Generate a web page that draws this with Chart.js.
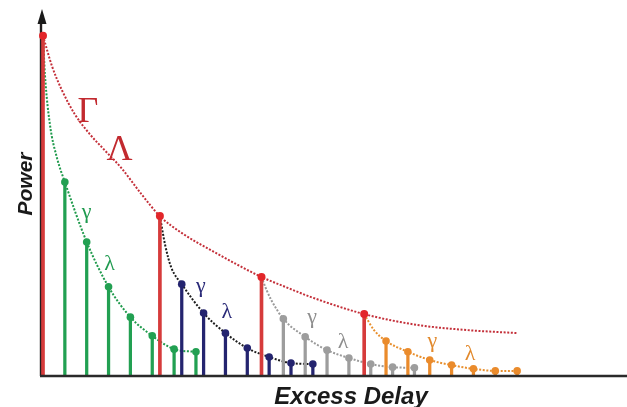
<!DOCTYPE html>
<html><head><meta charset="utf-8">
<script src="https://cdn.jsdelivr.net/npm/chart.js@4"></script>
<style>html,body{margin:0;padding:0;background:#fff}#wrap{width:627px;height:407px}</style>
</head><body><div id="wrap"><canvas id="c" width="627" height="407"></canvas></div>
<script>
// Saleh-Valenzuela style power delay profile: clusters of rays with exponential decay
const clusterDelays = [0, 53.5, 100, 147];          // cluster arrival times (ns)
const clusterPowers = [100, 47.0, 29.1, 18.2];      // cluster peak power
const rayOffsets = [10, 20, 30, 40, 50, 60, 70];    // ray arrival after cluster start (ns)
const rayPowers1 = [57.0, 39.4, 26.2, 17.3, 11.8, 7.9, 7.1];
const rayPowers2 = [27.0, 18.5, 12.6, 8.2, 5.6, 3.8, 3.5];
const rayPowers3 = [16.8, 11.5, 7.6, 5.3, 3.5, 2.6, 2.4];
const rayPowers4 = [10.3, 7.1, 4.7, 3.2, 2.1, 1.5, 1.5];
// cluster envelope (Γ decay)
const envelopeDelay = [0, 4.1, 8.6, 14.5, 21.4, 28.2, 35.9, 45.0, 53.5, 63.6, 79.1, 100, 110.9, 122.7, 147, 171.4, 194.1, 217.3];
const envelopePower = [100, 91.1, 84.1, 77.0, 71.1, 66.4, 61.1, 53.5, 47.0, 42.0, 36.2, 29.1, 26.2, 23.2, 18.2, 15.0, 13.5, 12.6];
// ray decay (γ) curve between each cluster peak and its first ray
const leadOffsets1 = [0.9, 3.2, 6.4], leadPowers1 = [88.5, 73.8, 64.1];
const leadOffsets2 = [2.4, 5.2],      leadPowers2 = [38.5, 31.9];
const leadOffsets3 = [2.3, 4.5],      leadPowers3 = [25.3, 22.3];
const leadOffsets4 = [4.5],           leadPowers4 = [13.5];
// symbol labels
const labelText  = ['Γ', 'Λ', 'γ', 'λ', 'γ', 'λ', 'γ', 'λ', 'γ', 'λ'];
const labelDelay = [20.5, 35.0, 20.0, 30.5, 72.3, 84.1, 123.2, 137.3, 178.2, 195.5];
const labelPower = [74.7, 63.5, 46.4, 31.2, 24.7, 17.0, 15.6, 8.2, 8.5, 4.7];
const labelGroup = [0, 0, 1, 1, 2, 2, 3, 3, 4, 4];

const rayPowers = [rayPowers1, rayPowers2, rayPowers3, rayPowers4];
const leadOffsets = [leadOffsets1, leadOffsets2, leadOffsets3, leadOffsets4];
const leadPowers = [leadPowers1, leadPowers2, leadPowers3, leadPowers4];

const RED_STEM = '#d63b3b', RED_DOT = '#e2262a', RED_CURVE = '#c4303a';
const rayColor = ['#22a052', '#24246f', '#9d9d9d', '#ea8b2c'];
const curveColor = ['#1f9a4c', '#1c1c1c', '#9a9a9a', '#e8902f'];
const labelColor = ['#c22a2f', '#1f9a4f', '#2a2a78', '#8e8e8e', '#e2892c'];

const datasets = [];

// envelope
datasets.push({
  type: 'line', order: 5, clip: false,
  data: envelopeDelay.map((d, i) => ({x: d, y: envelopePower[i]})),
  borderColor: RED_CURVE, borderWidth: 2, borderDash: [2, 1.6],
  pointRadius: 0, cubicInterpolationMode: 'monotone', fill: false
});

clusterDelays.forEach((t0, c) => {
  const rays = rayOffsets.map((o, k) => ({x: t0 + o, y: rayPowers[c][k]}));
  const lead = leadOffsets[c].map((o, k) => ({x: t0 + o, y: leadPowers[c][k]}));
  // ray decay curve
  datasets.push({
    type: 'line', order: 4, clip: false,
    data: [{x: t0, y: clusterPowers[c]}].concat(lead, rays),
    borderColor: curveColor[c], borderWidth: 2, borderDash: [2, 1.6],
    pointRadius: 0, cubicInterpolationMode: 'monotone', fill: false
  });
  // ray stems
  datasets.push({
    type: 'bar', order: 3, clip: false, grouped: false,
    data: rays, backgroundColor: rayColor[c], barThickness: 2.6
  });
  // ray tips
  datasets.push({
    type: 'line', order: 1, clip: false, showLine: false,
    data: rays, pointRadius: 3.8, pointBackgroundColor: rayColor[c], pointBorderWidth: 0
  });
});

// cluster stems and peaks
const clusterPts = clusterDelays.map((d, i) => ({x: d, y: clusterPowers[i]}));
datasets.push({
  type: 'bar', order: 2, clip: false, grouped: false,
  data: clusterPts, backgroundColor: RED_STEM, barThickness: 3
});
datasets.push({
  type: 'line', order: 0, clip: false, showLine: false,
  data: clusterPts, pointRadius: 4, pointBackgroundColor: RED_DOT, pointBorderWidth: 0
});

const axesPlugin = {
  id: 'axesAndText',
  beforeDatasetsDraw(chart) {
    const {ctx, chartArea: a} = chart;
    ctx.save();
    ctx.strokeStyle = '#231f20';
    ctx.lineWidth = 2.4;
    ctx.beginPath();
    ctx.moveTo(41, a.bottom);
    ctx.lineTo(41, 22);
    ctx.stroke();
    ctx.fillStyle = '#1a1a1a';
    ctx.beginPath();
    ctx.moveTo(42, 9);
    ctx.lineTo(46.5, 24);
    ctx.lineTo(37.5, 24);
    ctx.closePath();
    ctx.fill();
    ctx.restore();
  },
  afterDatasetsDraw(chart) {
    const {ctx, chartArea: a, scales: {x, y}} = chart;
    ctx.save();
    ctx.strokeStyle = '#2a2a2a';
    ctx.lineWidth = 2.6;
    ctx.beginPath();
    ctx.moveTo(40, a.bottom);
    ctx.lineTo(627, a.bottom);
    ctx.stroke();

    ctx.textAlign = 'center';
    ctx.textBaseline = 'alphabetic';
    labelText.forEach((t, i) => {
      const g = labelGroup[i];
      ctx.font = (g === 0 ? '36px' : '22px') + ' "Liberation Serif", "DejaVu Serif", serif';
      ctx.fillStyle = labelColor[g];
      ctx.fillText(t, x.getPixelForValue(labelDelay[i]), y.getPixelForValue(labelPower[i]));
    });

    ctx.fillStyle = '#1a1a1a';
    ctx.font = 'italic bold 24px "Liberation Sans", Arial, sans-serif';
    ctx.fillText('Excess Delay', 351, 404);
    ctx.translate(32, 184);
    ctx.rotate(-Math.PI / 2);
    ctx.font = 'italic bold 21px "Liberation Sans", Arial, sans-serif';
    ctx.fillText('Power', 0, 0);
    ctx.restore();
  }
};

new Chart(document.getElementById('c'), {
  type: 'line',
  data: {datasets},
  options: {
    responsive: false, animation: false, devicePixelRatio: 1, events: [],
    layout: {padding: {left: 43, right: 0, top: 12, bottom: 31}},
    plugins: {legend: {display: false}, tooltip: {enabled: false}},
    scales: {
      x: {type: 'linear', min: 0, max: 265.45, offset: false, display: false},
      y: {type: 'linear', min: 0, max: 107, display: false}
    }
  },
  plugins: [axesPlugin]
});
</script></body></html>
